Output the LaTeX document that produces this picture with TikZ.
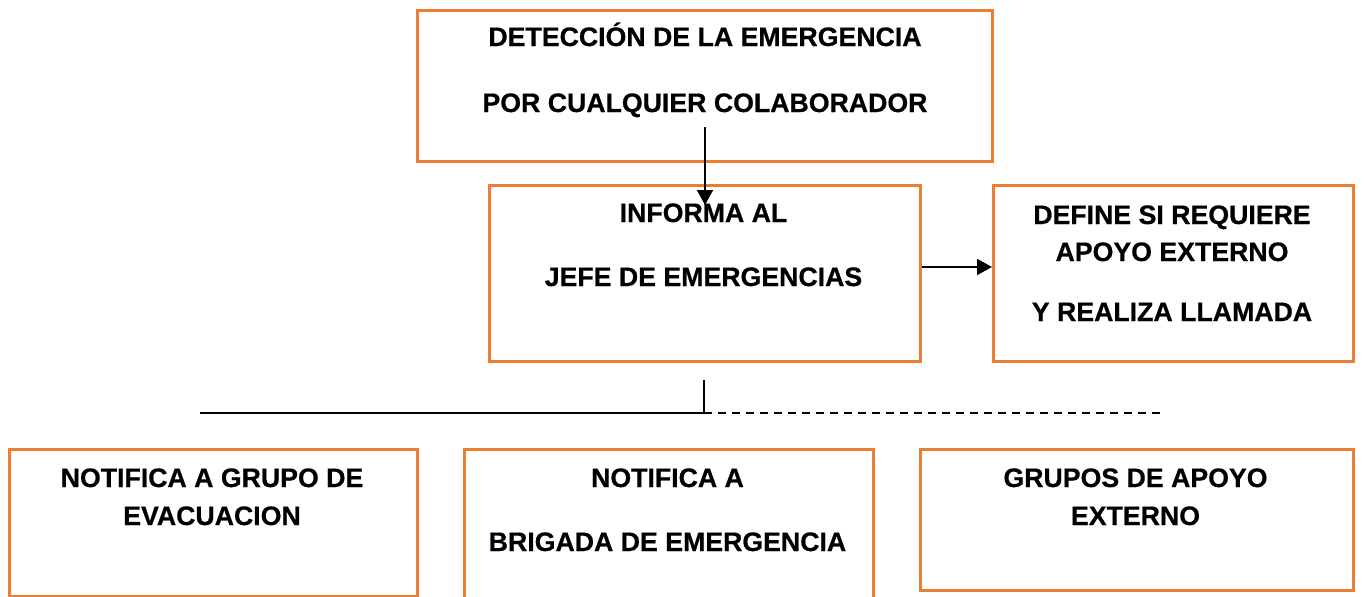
\documentclass[tikz,border=0pt]{standalone}
\usepackage{fontspec}
\setmainfont{Liberation Sans}
\newfontfamily\heavyfont[FakeBold=0.6]{Liberation Sans Bold}
\usetikzlibrary{arrows.meta}
\definecolor{boxorange}{HTML}{ED7D31}
\begin{document}
\begin{tikzpicture}[x=1pt,y=-1pt,
  box/.style={draw=boxorange,line width=2.5pt,inner sep=0pt,anchor=north west},
  lbl/.style={anchor=base,font=\fontsize{26.7}{30}\selectfont\heavyfont,inner sep=0pt},
  conn/.style={line width=1.7pt,black},
  tipped/.style={-{Triangle[length=15pt,width=16pt]}}]
\useasboundingbox (0,0) rectangle (1369,597);
\clip (0,0) rectangle (1369,597);
% boxes
\node[box,minimum width=575pt,minimum height=151pt] (top) at (416,9) {};
\node[box,minimum width=431pt,minimum height=176pt] (mid) at (488,184) {};
\node[box,minimum width=360pt,minimum height=176pt] (right) at (992,184) {};
\node[box,minimum width=408pt,minimum height=147pt] (bl) at (8,448) {};
\node[box,minimum width=409pt,minimum height=170pt] (bm) at (463,448) {};
\node[box,minimum width=433pt,minimum height=141pt] (br) at (919,448) {};
% texts
\node[lbl] (t1) at (705,46) {DETECCIÓN DE LA EMERGENCIA};
\node[lbl] (t2) at (705,112) {POR CUALQUIER COLABORADOR};
\node[lbl] (m1) at (703.5,222) {INFORMA AL};
\node[lbl] (m2) at (703.5,286) {JEFE DE EMERGENCIAS};
\node[lbl] (r1) at (1172,224) {DEFINE SI REQUIERE};
\node[lbl] (r2) at (1172,261) {APOYO EXTERNO};
\node[lbl] (r3) at (1172,321) {Y REALIZA LLAMADA};
\node[lbl] (b1) at (212,487) {NOTIFICA A GRUPO DE};
\node[lbl] (b2) at (212,525) {EVACUACION};
\node[lbl] (c1) at (667.5,487) {NOTIFICA A};
\node[lbl] (c2) at (667.5,551) {BRIGADA DE EMERGENCIA};
\node[lbl] (d1) at (1135.5,487) {GRUPOS DE APOYO};
\node[lbl] (d2) at (1135.5,525) {EXTERNO};
% connectors
\coordinate (a1) at (705,127);
\coordinate (a2) at (705,205);
\draw[conn,tipped] (a1) -- (a2);
\coordinate (ay) at (0,267);
\draw[conn,tipped] (mid.east |- ay) -- (right.west |- ay);
\coordinate (jtop) at (704,380);
\coordinate (j) at (704,413);
\coordinate (lend) at (200,413);
\coordinate (rend) at (1160,413);
\draw[conn] (jtop) -- (j);
\draw[conn] (lend) -- (j);
\draw[conn,dash pattern=on 8pt off 6pt] (j) -- (rend);
\end{tikzpicture}
\end{document}
